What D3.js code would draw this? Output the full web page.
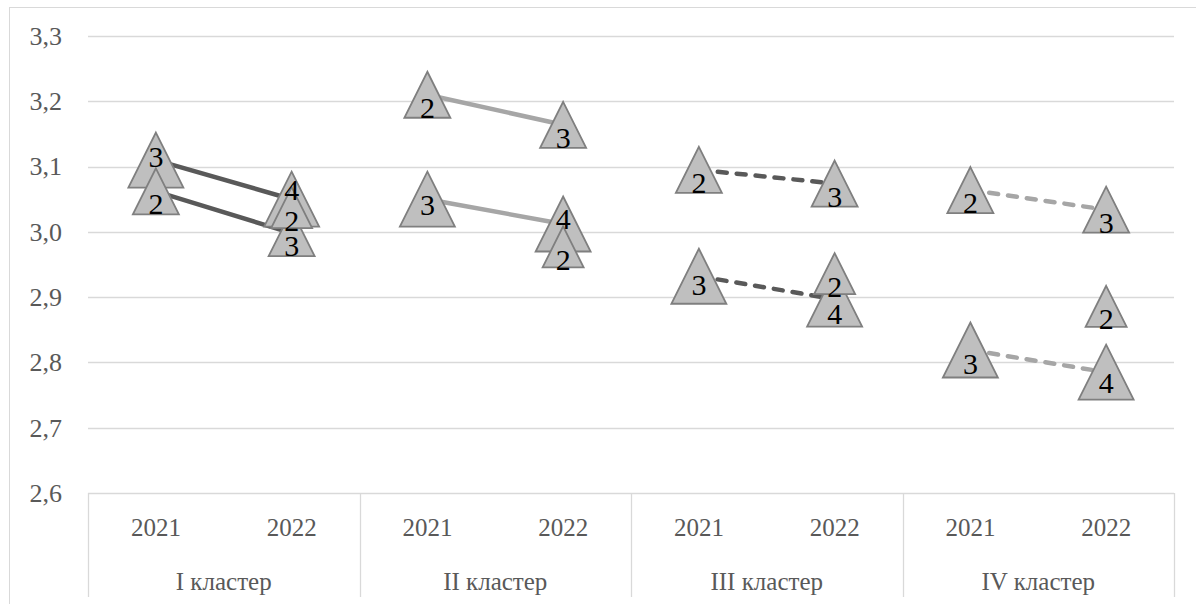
<!doctype html>
<html>
<head>
<meta charset="utf-8">
<script src="https://cdnjs.cloudflare.com/ajax/libs/d3/7.8.5/d3.min.js"></script>
<style>
  body { margin: 0; background: #fff; }
</style>
</head>
<body>
<svg id="chart" width="1196" height="604"></svg>
<script>
// categories
var clusters = ["I кластер", "II кластер", "III кластер", "IV кластер"];
var years = ["2021", "2022"];
var yTicks = [2.6, 2.7, 2.8, 2.9, 3.0, 3.1, 3.2, 3.3];

// connected pair "3" -> "4" in each cluster (2021, 2022)
var pairA = [[3.11, 3.05], [3.05, 3.012], [2.932, 2.897], [2.819, 2.785]];
var labelsA = ["3", "4"];
// connected pair "2" -> "3"
var pairB = [[3.062, 2.998], [3.21, 3.164], [3.095, 3.074], [3.064, 3.034]];
var labelsB = ["2", "3"];
// lone 2022 point "2"
var loneC = [3.037, 2.977, 2.936, 2.886];
var labelC = "2";

// line look per cluster
var lineColor = ["#595959", "#a6a6a6", "#595959", "#a6a6a6"];
var lineDash = [null, null, "9 10", "9 10"];
// label nudges for the big markers (2021, 2022)
var nudgeA = [[-3, -9], [6, -5], [9, 15], [14, 11]];

var serif = "Liberation Serif";
var svg = d3.select("#chart").style("font-family", serif);
var plotL = 88, plotR = 1174, plotT = 36, plotB = 493;

var x0 = d3.scaleBand().domain(clusters).range([plotL, plotR]);
var x1 = d3.scaleBand().domain(years).range([0, x0.bandwidth()]);
var y = d3.scaleLinear().domain([2.6, 3.3]).range([plotB, plotT]);
function px(ci, yi) { return x0(clusters[ci]) + x1(years[yi]) + x1.bandwidth() / 2; }

var fmt = d3.formatLocale({decimal: ",", thousands: " ", grouping: [3], currency: ["", ""]}).format(".1f");

// outer border
svg.append("rect")
    .attr("x", 9.5).attr("y", 7.5)
    .attr("width", 1200).attr("height", 620)
    .attr("fill", "none").attr("stroke", "#d9d9d9");

// gridlines
svg.append("g").selectAll("line")
    .data(yTicks).enter().append("line")
    .attr("x1", plotL).attr("x2", plotR)
    .attr("y1", function(d) { return Math.round(y(d)) + 0.5; })
    .attr("y2", function(d) { return Math.round(y(d)) + 0.5; })
    .attr("stroke", "#d9d9d9").attr("stroke-width", 1.3);

// value axis
var ya = svg.append("g")
    .attr("transform", "translate(" + plotL + ",0)")
    .call(d3.axisLeft(y).tickValues(yTicks).tickSize(0).tickPadding(26).tickFormat(fmt));
ya.attr("font-family", serif).attr("font-size", 26);
ya.select(".domain").remove();
ya.selectAll("text").attr("fill", "#595959").attr("font-family", serif);

// category axis: separators, years, clusters
var sep = clusters.map(function(c) { return x0(c); }).concat([plotR]);
svg.append("g").selectAll("line")
    .data(sep).enter().append("line")
    .attr("x1", function(d) { return Math.round(d) + 0.5; })
    .attr("x2", function(d) { return Math.round(d) + 0.5; })
    .attr("y1", plotB).attr("y2", 597)
    .attr("stroke", "#d9d9d9").attr("stroke-width", 1.3);

clusters.forEach(function(c, ci) {
    years.forEach(function(yr, yi) {
        svg.append("text")
            .attr("x", px(ci, yi)).attr("y", 536)
            .attr("text-anchor", "middle")
            .attr("font-family", serif)
            .attr("font-size", 25).attr("fill", "#595959")
            .text(yr);
    });
    svg.append("text")
        .attr("x", x0(c) + x0.bandwidth() / 2).attr("y", 590)
        .attr("text-anchor", "middle")
        .attr("font-family", serif)
        .attr("font-size", 25).attr("fill", "#595959")
        .text(c);
});

// connecting lines
var line = d3.line().x(function(d) { return d[0]; }).y(function(d) { return y(d[1]); });
[pairA, pairB].forEach(function(pair) {
    pair.forEach(function(v, ci) {
        svg.append("path")
            .attr("d", line([[px(ci, 0), v[0]], [px(ci, 1), v[1]]]))
            .attr("fill", "none")
            .attr("stroke", lineColor[ci])
            .attr("stroke-width", 4.5)
            .attr("stroke-linecap", "round")
            .attr("stroke-dasharray", lineDash[ci]);
    });
});

// triangle markers
function tri(s) {
    var h = s / 2;
    return "M0," + (-h) + "L" + h + "," + h + "L" + (-h) + "," + h + "Z";
}
var marks = [];
pairA.forEach(function(v, ci) {
    marks.push({x: px(ci, 0), v: v[0], s: 55, t: labelsA[0], dy: nudgeA[ci][0]});
    marks.push({x: px(ci, 1), v: v[1], s: 55, t: labelsA[1], dy: nudgeA[ci][1]});
});
pairB.forEach(function(v, ci) {
    marks.push({x: px(ci, 0), v: v[0], s: 46, t: labelsB[0], dy: 13});
    marks.push({x: px(ci, 1), v: v[1], s: 46, t: labelsB[1], dy: 13});
});
loneC.forEach(function(v, ci) {
    marks.push({x: px(ci, 1), v: v, s: 41, t: labelC, dy: 13});
});

svg.append("g").selectAll("path")
    .data(marks).enter().append("path")
    .attr("transform", function(d) { return "translate(" + d.x + "," + y(d.v) + ")"; })
    .attr("d", function(d) { return tri(d.s); })
    .attr("fill", "#bfbfbf")
    .attr("stroke", "#7f7f7f")
    .attr("stroke-width", 1.8)
    .attr("stroke-linejoin", "miter");

svg.append("g").selectAll("text")
    .data(marks).enter().append("text")
    .attr("x", function(d) { return d.x; })
    .attr("y", function(d) { return y(d.v) + d.dy + 10; })
    .attr("text-anchor", "middle")
    .attr("font-family", serif)
    .attr("font-size", 30).attr("fill", "#000")
    .text(function(d) { return d.t; });
</script>
</body>
</html>
